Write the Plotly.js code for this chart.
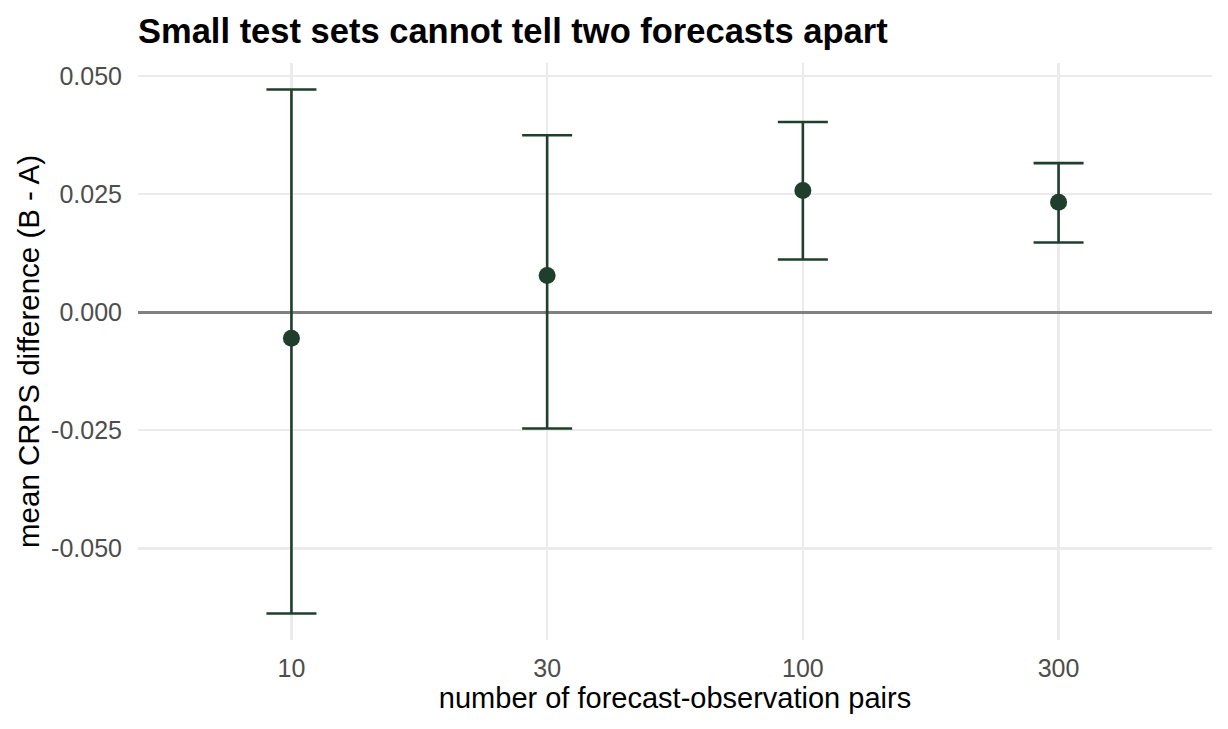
<!DOCTYPE html>
<html>
<head>
<meta charset="utf-8">
<script src="https://cdn.plot.ly/plotly-3.0.1.min.js"></script>
<style>html,body{margin:0;padding:0;background:#fff;}#chart{width:1228px;height:729px;}</style>
</head>
<body>
<div id="chart"></div>
<script>
const categories = ["10", "30", "100", "300"];
const meanDiff = [-0.0055, 0.0078, 0.0258, 0.0233];
const upper = [0.0472, 0.0375, 0.0403, 0.0316];
const lower = [-0.0638, -0.0246, 0.0112, 0.0148];
const yTicks = [-0.05, -0.025, 0, 0.025, 0.05];
const yTickText = ["-0.050", "-0.025", "0.000", "0.025", "0.050"];

const col = "#1f3f2c";
const font = "Liberation Sans, Arial, sans-serif";

const trace = {
  type: "scatter",
  mode: "markers",
  x: categories,
  y: meanDiff,
  marker: {color: col, size: 17},
  error_y: {
    type: "data",
    symmetric: false,
    array: upper.map((u, i) => u - meanDiff[i]),
    arrayminus: meanDiff.map((m, i) => m - lower[i]),
    color: col,
    thickness: 2.6,
    width: 25
  },
  hoverinfo: "x+y"
};

const layout = {
  width: 1228, height: 729,
  margin: {l: 138, r: 16, t: 63, b: 89},
  paper_bgcolor: "#fff", plot_bgcolor: "#fff",
  showlegend: false,
  font: {family: font, color: "#000"},
  title: {
    text: "<b>Small test sets cannot tell two forecasts apart</b>",
    font: {family: font, size: 34.5, color: "#000"},
    xref: "container", yref: "container",
    x: 138/1228, xanchor: "left",
    y: 1 - 31/729, yanchor: "middle"
  },
  xaxis: {
    type: "category",
    range: [-0.6, 3.6],
    showgrid: true, gridcolor: "#ebebeb", gridwidth: 2.2,
    zeroline: false, showline: false,
    ticks: "outside", ticklen: 6, tickcolor: "rgba(0,0,0,0)",
    tickfont: {family: font, size: 25, color: "#4d4d4d"},
    title: {text: "number of forecast-observation pairs", font: {family: font, size: 29, color: "#000"}, standoff: 4}
  },
  yaxis: {
    range: [-0.0694, 0.0528],
    tickvals: yTicks, ticktext: yTickText,
    showgrid: true, gridcolor: "#ebebeb", gridwidth: 2.2,
    zeroline: true, zerolinecolor: "#808080", zerolinewidth: 2.4,
    showline: false,
    ticks: "outside", ticklen: 10, tickcolor: "rgba(0,0,0,0)",
    tickfont: {family: font, size: 25, color: "#4d4d4d"},
    title: {text: "mean CRPS difference (B - A)", font: {family: font, size: 29.5, color: "#000"}, standoff: 2}
  }
};

Plotly.newPlot("chart", [trace], layout, {displayModeBar: false, staticPlot: true});
</script>
</body>
</html>
